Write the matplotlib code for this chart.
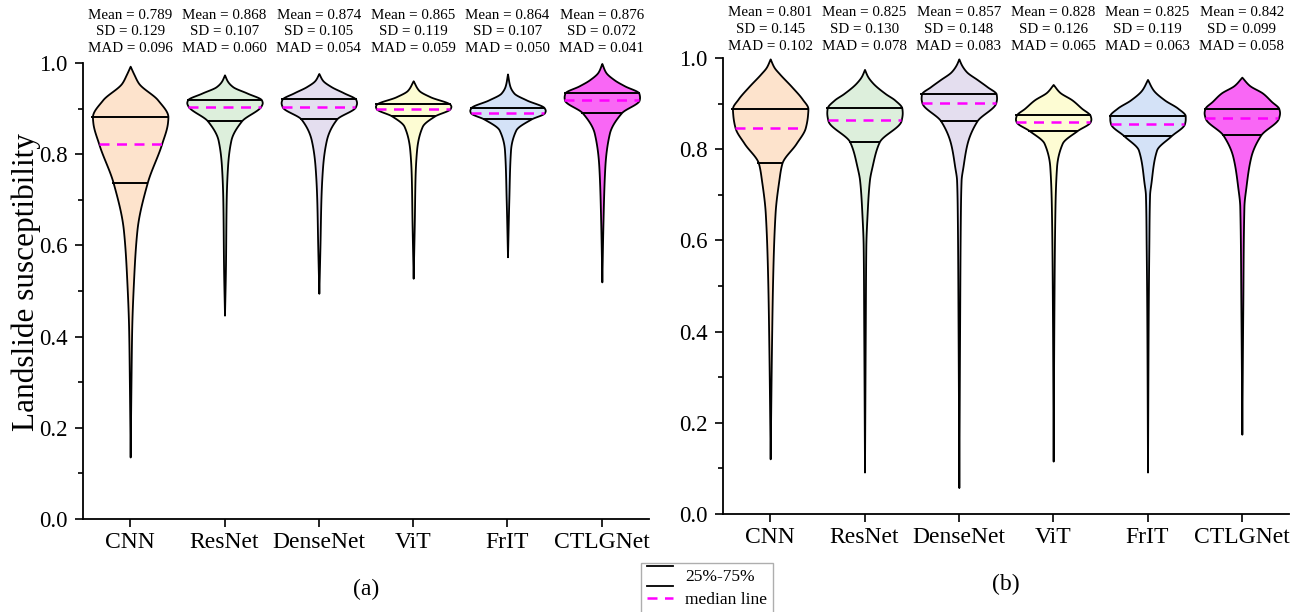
import numpy as np
import matplotlib
matplotlib.use('Agg')
import matplotlib.pyplot as plt
from matplotlib.lines import Line2D
from matplotlib.legend_handler import HandlerBase

plt.rcParams['font.family'] = ['Liberation Serif', 'DejaVu Serif']

models = ['CNN', 'ResNet', 'DenseNet', 'ViT', 'FrIT', 'CTLGNet']
colors = ['#FDE3CC', '#DDEFDC', '#E4DEEF', '#FDFCD3', '#D4E2F7', '#F967F5']

# summary stats printed above each violin
mean_a = ['0.789', '0.868', '0.874', '0.865', '0.864', '0.876']
sd_a = ['0.129', '0.107', '0.105', '0.119', '0.107', '0.072']
mad_a = ['0.096', '0.060', '0.054', '0.059', '0.050', '0.041']
mean_b = ['0.801', '0.825', '0.857', '0.828', '0.825', '0.842']
sd_b = ['0.145', '0.130', '0.148', '0.126', '0.119', '0.099']
mad_b = ['0.102', '0.078', '0.083', '0.065', '0.063', '0.058']

# quartiles / median
q1_a = [0.737, 0.873, 0.877, 0.884, 0.877, 0.891]
med_a = [0.823, 0.904, 0.904, 0.900, 0.891, 0.919]
q3_a = [0.881, 0.919, 0.920, 0.909, 0.902, 0.934]
q1_b = [0.769, 0.816, 0.862, 0.841, 0.829, 0.831]
med_b = [0.847, 0.863, 0.902, 0.860, 0.856, 0.868]
q3_b = [0.889, 0.890, 0.921, 0.874, 0.873, 0.889]

# violin outlines: knots of (value, relative half width)
prof_y_a = [
    [0.136, 0.305, 0.414, 0.524, 0.634, 0.737, 0.822, 0.870, 0.882, 0.919, 0.956, 0.975, 0.993],
    [0.447, 0.550, 0.700, 0.773, 0.831, 0.873, 0.906, 0.913, 0.919, 0.934, 0.948, 0.960, 0.974],
    [0.495, 0.600, 0.700, 0.773, 0.831, 0.877, 0.904, 0.913, 0.920, 0.935, 0.948, 0.962, 0.977],
    [0.528, 0.650, 0.750, 0.809, 0.861, 0.884, 0.900, 0.905, 0.909, 0.926, 0.940, 0.961],
    [0.575, 0.700, 0.809, 0.853, 0.877, 0.891, 0.896, 0.902, 0.919, 0.934, 0.950, 0.976],
    [0.520, 0.650, 0.773, 0.846, 0.891, 0.919, 0.925, 0.934, 0.950, 0.963, 0.980, 0.999],
]
prof_w_a = [
    [0.0, 0.022, 0.04, 0.09, 0.18, 0.45, 0.83, 0.99, 1.0, 0.73, 0.22, 0.10, 0.0],
    [0.0, 0.025, 0.045, 0.08, 0.17, 0.45, 0.97, 1.0, 0.98, 0.60, 0.22, 0.08, 0.0],
    [0.0, 0.03, 0.055, 0.10, 0.20, 0.47, 0.97, 1.0, 0.98, 0.65, 0.33, 0.10, 0.0],
    [0.0, 0.03, 0.05, 0.09, 0.24, 0.57, 0.98, 1.0, 0.98, 0.45, 0.15, 0.0],
    [0.0, 0.035, 0.08, 0.22, 0.62, 0.98, 1.0, 0.97, 0.50, 0.17, 0.06, 0.0],
    [0.0, 0.03, 0.08, 0.20, 0.52, 0.99, 1.0, 0.98, 0.60, 0.33, 0.10, 0.0],
]
prof_y_b = [
    [0.121, 0.366, 0.513, 0.660, 0.732, 0.769, 0.813, 0.847, 0.875, 0.889, 0.910, 0.937, 0.965, 0.980, 0.998],
    [0.092, 0.400, 0.586, 0.660, 0.732, 0.762, 0.816, 0.863, 0.880, 0.890, 0.908, 0.922, 0.945, 0.960, 0.975],
    [0.058, 0.400, 0.650, 0.732, 0.762, 0.813, 0.862, 0.902, 0.912, 0.921, 0.937, 0.952, 0.970, 0.985, 0.998],
    [0.116, 0.450, 0.660, 0.762, 0.813, 0.841, 0.860, 0.866, 0.874, 0.890, 0.908, 0.925, 0.942],
    [0.092, 0.450, 0.586, 0.700, 0.725, 0.798, 0.829, 0.856, 0.866, 0.873, 0.890, 0.908, 0.930, 0.953],
    [0.175, 0.450, 0.674, 0.718, 0.784, 0.831, 0.868, 0.880, 0.889, 0.905, 0.923, 0.940, 0.958],
]
prof_w_b = [
    [0.0, 0.035, 0.065, 0.13, 0.23, 0.31, 0.69, 0.93, 0.99, 1.0, 0.85, 0.57, 0.25, 0.10, 0.0],
    [0.0, 0.02, 0.035, 0.07, 0.13, 0.20, 0.39, 0.97, 1.0, 0.99, 0.80, 0.55, 0.22, 0.08, 0.0],
    [0.0, 0.02, 0.04, 0.06, 0.11, 0.22, 0.48, 0.98, 1.0, 0.99, 0.75, 0.50, 0.20, 0.07, 0.0],
    [0.0, 0.02, 0.045, 0.09, 0.24, 0.64, 0.98, 1.0, 0.98, 0.75, 0.50, 0.17, 0.0],
    [0.0, 0.02, 0.035, 0.055, 0.09, 0.24, 0.62, 0.98, 1.0, 1.0, 0.80, 0.45, 0.15, 0.0],
    [0.0, 0.025, 0.055, 0.11, 0.24, 0.50, 0.97, 1.0, 0.98, 0.78, 0.55, 0.20, 0.0],
]

HALF_W = 0.40
MED_COLOR = '#FF00FF'


def pchip(x, y, xn):
    # monotone cubic through the knots, just for a smooth outline
    x = np.asarray(x, float)
    y = np.asarray(y, float)
    h = np.diff(x)
    d = np.diff(y) / h
    m = np.zeros_like(y)
    for k in range(1, len(x) - 1):
        if d[k - 1] * d[k] > 0:
            w1 = 2 * h[k] + h[k - 1]
            w2 = h[k] + 2 * h[k - 1]
            m[k] = (w1 + w2) / (w1 / d[k - 1] + w2 / d[k])
    m[0] = d[0]
    m[-1] = d[-1]
    idx = np.clip(np.searchsorted(x, xn) - 1, 0, len(x) - 2)
    t = (xn - x[idx]) / h[idx]
    h00 = 2 * t**3 - 3 * t**2 + 1
    h10 = t**3 - 2 * t**2 + t
    h01 = -2 * t**3 + 3 * t**2
    h11 = t**3 - t**2
    out = h00 * y[idx] + h10 * h[idx] * m[idx] + h01 * y[idx + 1] + h11 * h[idx] * m[idx + 1]
    return np.clip(out, 0, None)


class QuartileHandler(HandlerBase):
    # legend key for the 25%-75% lines: one line above, one below the label
    def create_artists(self, legend, orig_handle, xdescent, ydescent,
                       width, height, fontsize, trans):
        x0, x1 = -xdescent, -xdescent + width
        top = Line2D([x0, x1], [height + 0.15 * fontsize] * 2, color='black', lw=1.3, transform=trans)
        bot = Line2D([x0, x1], [-0.25 * fontsize] * 2, color='black', lw=1.3, transform=trans)
        return [top, bot]


def draw_panel(ax, py, pw, q1, med, q3, means, sds, mads, label, ann_y):
    tr = ax.get_xaxis_transform()
    for i, name in enumerate(models):
        c = i + 1
        yy = np.linspace(py[i][0], py[i][-1], 600)
        ww = pchip(py[i], pw[i], yy) * HALF_W
        ax.fill_betweenx(yy, c - ww, c + ww, facecolor=colors[i],
                         edgecolor='black', linewidth=1.3, zorder=2, clip_on=False)
        for q in (q1[i], q3[i]):
            wq = pchip(py[i], pw[i], np.array([q]))[0] * HALF_W
            ax.plot([c - wq, c + wq], [q, q], color='black', lw=1.4, zorder=3)
        wm = pchip(py[i], pw[i], np.array([med[i]]))[0] * HALF_W
        ax.plot([c - wm, c + wm], [med[i], med[i]], color=MED_COLOR, lw=1.8,
                ls=(0, (4, 3)), zorder=3)
        ax.text(c, ann_y[0], f'Mean = {means[i]}', transform=tr, ha='center', va='center', fontsize=10.8)
        ax.text(c, ann_y[1], f'SD = {sds[i]}', transform=tr, ha='center', va='center', fontsize=10.8)
        ax.text(c, ann_y[2], f'MAD = {mads[i]}', transform=tr, ha='center', va='center', fontsize=10.8)

    ax.set_xlim(0.5, 6.5)
    ax.set_ylim(0, 1.0)
    ax.set_xticks(range(1, 7))
    ax.set_xticklabels(models, fontsize=17)
    ax.set_yticks(np.arange(0, 1.01, 0.2))
    ax.set_yticklabels([f'{v:.1f}' for v in np.arange(0, 1.01, 0.2)], fontsize=16.5)
    ax.set_yticks(np.arange(0.1, 1.0, 0.2), minor=True)
    ax.tick_params(axis='y', which='major', direction='out', length=6, width=1.2, pad=5)
    ax.tick_params(axis='y', which='minor', direction='out', length=3.5, width=1.2)
    ax.tick_params(axis='x', which='major', direction='out', length=5.5, width=1.2, pad=4)
    for s in ('top', 'right'):
        ax.spines[s].set_visible(False)
    for s in ('left', 'bottom'):
        ax.spines[s].set_linewidth(1.3)
    ax.text(0.5, -0.155, label, transform=ax.transAxes, ha='center', va='center', fontsize=17)


fig = plt.figure(figsize=(13.14, 6.12), dpi=100)
ax1 = fig.add_axes([83 / 1314, 1 - 519 / 612, 566 / 1314, 456 / 612])
ax2 = fig.add_axes([723 / 1314, 1 - 514 / 612, 566 / 1314, 456 / 612])

draw_panel(ax1, prof_y_a, prof_w_a, q1_a, med_a, q3_a, mean_a, sd_a, mad_a, '(a)',
           [1.105, 1.069, 1.032])
draw_panel(ax2, prof_y_b, prof_w_b, q1_b, med_b, q3_b, mean_b, sd_b, mad_b, '(b)',
           [1.100, 1.063, 1.025])
ax1.set_ylabel('Landslide susceptibility', fontsize=22.5)
ax1.yaxis.set_label_coords(-0.075, 0.52)

quart_handle = Line2D([], [], color='black')
med_handle = Line2D([], [], color=MED_COLOR, lw=1.8, ls=(0, (4, 3)))
leg = fig.legend([quart_handle, med_handle], ['25%-75%', 'median line'],
                 handler_map={quart_handle: QuartileHandler()},
                 loc='upper left', bbox_to_anchor=(641 / 1314, 1 - 563 / 612),
                 fontsize=12.5, frameon=True, fancybox=False, borderpad=0.35,
                 handlelength=1.5, handletextpad=0.7, labelspacing=0.4,
                 borderaxespad=0)
leg.get_frame().set_edgecolor('#9a9a9a')
leg.get_frame().set_linewidth(1.0)

fig.savefig('out.png', dpi=100)
